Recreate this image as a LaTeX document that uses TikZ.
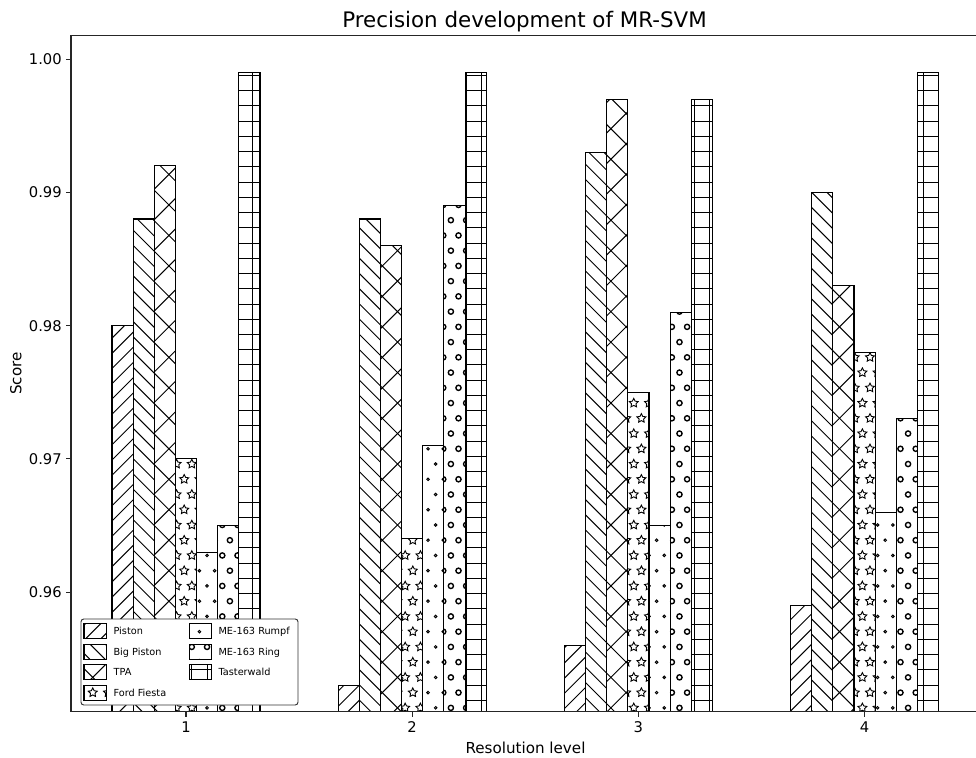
\documentclass[tikz,border=0pt]{standalone}
\usepackage{fontspec}
\setmainfont{DejaVu Sans}
\def\HP{15.24}
\def\HX{915.7}
\def\HY{570.7}
\newcommand\hatchNE[4]{%
  \pgfmathtruncatemacro\hka{floor(((#1)+(#3)-\HX-\HY)/\HP)-1}%
  \pgfmathtruncatemacro\hkb{ceil(((#2)+(#4)-\HX-\HY)/\HP)+1}%
  \foreach \hk in {\hka,...,\hkb}{%
    \pgfmathsetmacro\hc{\HX+\HY+\hk*\HP}%
    \draw[hatchline] ({\hc-(#4)},{#4}) -- ({\hc-(#3)},{#3});
  }}
\newcommand\hatchNW[4]{%
  \pgfmathtruncatemacro\hka{floor(((#1)-(#4)-\HX+\HY)/\HP)-1}%
  \pgfmathtruncatemacro\hkb{ceil(((#2)-(#3)-\HX+\HY)/\HP)+1}%
  \foreach \hk in {\hka,...,\hkb}{%
    \pgfmathsetmacro\hd{\HX-\HY+\hk*\HP}%
    \draw[hatchline] ({\hd+(#3)},{#3}) -- ({\hd+(#4)},{#4});
  }}
% crossed hatch with double spacing
\newcommand\hatchX[4]{%
  \pgfmathtruncatemacro\hka{floor(((#1)+(#3)-\HX-\HY)/(2*\HP))-1}%
  \pgfmathtruncatemacro\hkb{ceil(((#2)+(#4)-\HX-\HY)/(2*\HP))+1}%
  \foreach \hk in {\hka,...,\hkb}{%
    \pgfmathsetmacro\hc{\HX+\HY+(2*\hk+1)*\HP}%
    \draw[hatchline] ({\hc-(#4)},{#4}) -- ({\hc-(#3)},{#3});
  }%
  \pgfmathtruncatemacro\hka{floor(((#1)-(#4)-\HX+\HY)/(2*\HP))-1}%
  \pgfmathtruncatemacro\hkb{ceil(((#2)-(#3)-\HX+\HY)/(2*\HP))+1}%
  \foreach \hk in {\hka,...,\hkb}{%
    \pgfmathsetmacro\hd{\HX-\HY+(2*\hk+1)*\HP}%
    \draw[hatchline] ({\hd+(#3)},{#3}) -- ({\hd+(#4)},{#4});
  }}
\newcommand\hatchPlus[4]{%
  \pgfmathtruncatemacro\hka{floor(((#3)-\HY)/\HP)-1}%
  \pgfmathtruncatemacro\hkb{ceil(((#4)-\HY)/\HP)+1}%
  \foreach \hk in {\hka,...,\hkb}{%
    \pgfmathsetmacro\hhy{\HY+(\hk+0.5)*\HP}%
    \draw[hatchline] ({(#1)-2},\hhy) -- ({(#2)+2},\hhy);
  }%
  \pgfmathtruncatemacro\hka{floor(((#1)-\HX)/\HP)-1}%
  \pgfmathtruncatemacro\hkb{ceil(((#2)-\HX)/\HP)+1}%
  \foreach \hk in {\hka,...,\hkb}{%
    \pgfmathsetmacro\hhx{\HX+(\hk+0.5)*\HP}%
    \draw[hatchline] (\hhx,{(#3)-2}) -- (\hhx,{(#4)+2});
  }}
\newcommand\hatchShapes[5]{%
  \pgfmathtruncatemacro\hma{floor(((#3)-\HY)/\HP)-1}%
  \pgfmathtruncatemacro\hmb{ceil(((#4)-\HY)/\HP)+1}%
  \pgfmathtruncatemacro\hia{floor(((#1)-\HX)/\HP)-1}%
  \pgfmathtruncatemacro\hib{ceil(((#2)-\HX)/\HP)+1}%
  \foreach \hm in {\hma,...,\hmb}{%
    \foreach \hi in {\hia,...,\hib}{%
      \pgfmathsetmacro\hsx{\HX+(\hi+0.5*abs(mod(\hm,2)))*\HP}%
      \pgfmathsetmacro\hsy{\HY+\hm*\HP}%
      #5{\hsx}{\hsy}%
    }}}
\newcommand\starat[2]{\draw[hatchline,line width=0.65pt,line join=miter] (#1,#2) +(-90:4.7) -- +(-54:2.35) -- +(-18:4.7) -- +(18:2.35) -- +(54:4.7) -- +(90:2.35) -- +(126:4.7) -- +(162:2.35) -- +(198:4.7) -- +(234:2.35) -- cycle;}
\newcommand\dotat[2]{\draw[hatchline,line width=0.7pt] (#1,#2) circle[radius=1.3];}
\newcommand\ringat[2]{\draw[hatchline,line width=1pt] (#1,#2) circle[radius=2.6];}
\newcommand\hatchStar[4]{\hatchShapes{#1}{#2}{#3}{#4}{\starat}}
\newcommand\hatchDot[4]{\hatchShapes{#1}{#2}{#3}{#4}{\dotat}}
\newcommand\hatchRing[4]{\hatchShapes{#1}{#2}{#3}{#4}{\ringat}}
\newcommand\drawbar[3]{%
  \pgfmathsetmacro\dbT{59.3+(1-(#2))*13320}%
  \pgfmathsetmacro\dbL{#1}%
  \pgfmathsetmacro\dbR{#1+21.15}%
  \begin{scope}
    \fill[white] (\dbL,\dbT) rectangle (\dbR,730);
    \clip (\dbL,\dbT) rectangle (\dbR,730);
    #3{\dbL}{\dbR}{\dbT}{730}%
  \end{scope}
  \draw[baredge] (\dbL,730) -- (\dbL,\dbT) -- (\dbR,\dbT) -- (\dbR,730);}
\newcommand\legpatch[3]{%
  \pgfmathsetmacro\lpL{#1}\pgfmathsetmacro\lpR{#1+22.4}%
  \pgfmathsetmacro\lpT{#2-7.5}\pgfmathsetmacro\lpB{#2+7.5}%
  \begin{scope}
    \clip (\lpL,\lpT) rectangle (\lpR,\lpB);
    #3{\lpL}{\lpR}{\lpT}{\lpB}%
  \end{scope}
  \draw[baredge] (\lpL,\lpT) rectangle (\lpR,\lpB);}
\begin{document}
\begin{tikzpicture}[x=0.72pt,y=-0.72pt,
  hatchline/.style={line width=0.7pt,black},
  baredge/.style={line width=0.8pt,black},
  spine/.style={line width=0.8pt,black!85},
  tickmark/.style={line width=0.8pt,black!85},
  ticklabel/.style={font=\fontsize{10.6}{12}\selectfont,inner sep=0pt},
  axlabel/.style={font=\fontsize{10.9}{13}\selectfont,inner sep=0pt},
  titlelabel/.style={font=\fontsize{15.4}{18}\selectfont,inner sep=0pt},
  legtext/.style={font=\fontsize{7}{8.4}\selectfont,inner sep=0pt,anchor=base west},
  legframe/.style={draw=black!80,line width=0.7pt,fill=white,rounded corners=2pt}]
\useasboundingbox (0,0) rectangle (976,758);
\fill[white] (0,0) rectangle (976,758);
% bars
\begin{scope}
\clip (71,35.5) rectangle (980,711.7);
\foreach \g/\vA/\vB/\vC/\vD/\vE/\vF/\vG in {
  0/0.980/0.988/0.992/0.970/0.963/0.965/0.999,
  1/0.953/0.988/0.986/0.964/0.971/0.989/0.999,
  2/0.956/0.993/0.997/0.975/0.965/0.981/0.997,
  3/0.959/0.990/0.983/0.978/0.966/0.973/0.999}{
  \pgfmathsetmacro\gx{112+\g*226.17}
  \drawbar{\gx}{\vA}{\hatchNE}
  \drawbar{\gx+21.15}{\vB}{\hatchNW}
  \drawbar{\gx+42.3}{\vC}{\hatchX}
  \drawbar{\gx+63.45}{\vD}{\hatchStar}
  \drawbar{\gx+84.6}{\vE}{\hatchDot}
  \drawbar{\gx+105.75}{\vF}{\hatchRing}
  \drawbar{\gx+126.9}{\vG}{\hatchPlus}
}
\end{scope}
% spines
\draw[spine] (980,711.7) -- (71,711.7) -- (71,35.5) -- (980,35.5) -- cycle;
% y ticks
\foreach \ty/\tl [count=\n] in {59.3/1.00, 192.5/0.99, 325.7/0.98, 458.9/0.97, 592.1/0.96}{
  \draw[tickmark] (66,\ty) -- (71,\ty);
  \node[ticklabel,anchor=base east] (yt\n) at (62,\ty+5.4) {\tl};
}
% x ticks
\foreach \tx/\tl [count=\n] in {186/1, 412.17/2, 638.33/3, 864.5/4}{
  \draw[tickmark] (\tx,711.7) -- (\tx,716.5);
  \node[ticklabel,anchor=base] (xt\n) at (\tx,732.5) {\tl};
}
% labels
\node[titlelabel,anchor=base] (title) at (524.5,27.3) {Precision development of MR-SVM};
\node[axlabel,anchor=base] (xlabel) at (525.5,753) {Resolution level};
\node[axlabel,anchor=base,rotate=90] (ylabel) at (21.5,373.6) {Score};
% legend
\draw[legframe] (81,619) rectangle (298,705);
\legpatch{84}{631}{\hatchNE}
\legpatch{84}{651.6}{\hatchNW}
\legpatch{84}{672.2}{\hatchX}
\legpatch{84}{692.8}{\hatchStar}
\legpatch{189.3}{631}{\hatchDot}
\legpatch{189.3}{651.6}{\hatchRing}
\legpatch{189.3}{672.2}{\hatchPlus}
\node[legtext] (l1) at (113.3,634.6) {Piston};
\node[legtext] (l2) at (113.3,655.2) {Big Piston};
\node[legtext] (l3) at (113.3,675.8) {TPA};
\node[legtext] (l4) at (113.3,696.4) {Ford Fiesta};
\node[legtext] (l5) at (218.3,634.6) {ME-163 Rumpf};
\node[legtext] (l6) at (218.3,655.2) {ME-163 Ring};
\node[legtext] (l7) at (218.3,675.8) {Tasterwald};
\end{tikzpicture}
\end{document}
